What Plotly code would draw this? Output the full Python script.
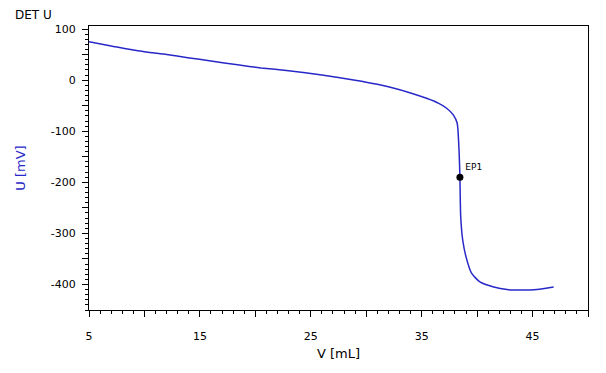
import plotly.graph_objects as go

# Titration curve
volume_ml = [5, 7, 9.4, 12, 13.9, 16, 18.4, 20.5, 23, 26, 29, 31, 32, 34, 35.5, 36.5,
             37.25, 37.85, 38.2, 38.36, 38.45, 38.52, 38.7, 39.0, 39.5,
             40.25, 41.5, 42.7, 44, 45.4, 46.9]
potential_mv = [75, 67, 57.5, 50, 44, 37.5, 30, 24, 18.5, 10, 0, -8, -13, -25, -36, -45,
                -55, -68, -84, -133, -190, -267, -313, -346, -378,
                -395, -405, -410, -411, -410, -405]

# End point
ep_label = ["EP1"]
ep_v = [38.45]
ep_u = [-190]

# Axis ticks
x_tickvals = [5, 10, 15, 20, 25, 30, 35, 40, 45, 50]
x_ticktext = ["5", "", "15", "", "25", "", "35", "", "45", ""]
y_tickvals = [100, 50, 0, -50, -100, -150, -200, -250, -300, -350, -400]
y_ticktext = ["100", "", "0", "", "-100", "", "-200", "", "-300", "", "-400"]

font_family = "DejaVu Sans"
blue = "rgb(40,40,200)"

fig = go.Figure()
fig.add_trace(go.Scatter(x=volume_ml, y=potential_mv, mode="lines",
                         line=dict(color=blue, width=1.5, shape="spline", smoothing=0.6),
                         showlegend=False, hoverinfo="skip"))
fig.add_trace(go.Scatter(x=ep_v, y=ep_u, mode="markers+text", text=ep_label,
                         textposition="top right",
                         textfont=dict(family=font_family, size=9, color="black"),
                         marker=dict(color="black", size=7), showlegend=False))

# page body has an 8px margin; size the figure so the plot lands in place
fig.update_layout(
    width=598, height=365,
    margin=dict(l=81, r=18, t=18, b=63, autoexpand=False),
    paper_bgcolor="white", plot_bgcolor="white",
    font=dict(family=font_family, size=11, color="black"),
    annotations=[dict(text="DET U", x=-76 / 499, y=1 + 11 / 284,
                      xref="paper", yref="paper", xanchor="left",
                      yanchor="middle", showarrow=False,
                      font=dict(family=font_family, size=12))],
)

fig.update_xaxes(range=[5, 50], tickmode="array", tickvals=x_tickvals,
                 ticktext=x_ticktext, ticks="outside", ticklen=6, tickwidth=1,
                 tickcolor="black", showline=True, linecolor="black", linewidth=1,
                 mirror=True, showgrid=False, zeroline=False, automargin=False,
                 ticklabelstandoff=10,
                 minor=dict(dtick=1, ticks="outside", ticklen=3, tickcolor="black",
                            showgrid=False),
                 title=dict(text="V [mL]", standoff=6, font=dict(size=13)),
                 tickfont=dict(size=11))
fig.update_yaxes(range=[-450, 106], tickmode="array", tickvals=y_tickvals,
                 ticktext=y_ticktext, ticks="outside", ticklen=6, tickwidth=1,
                 tickcolor="black", showline=True, linecolor="black", linewidth=1,
                 mirror=True, showgrid=False, zeroline=False, automargin=False,
                 ticklabelstandoff=4,
                 minor=dict(dtick=10, tick0=0, ticks="outside", ticklen=3,
                            tickcolor="black", showgrid=False),
                 title=dict(text="U [mV]", standoff=22, font=dict(size=13, color=blue)),
                 tickfont=dict(size=11))

fig.write_html("out.html")
